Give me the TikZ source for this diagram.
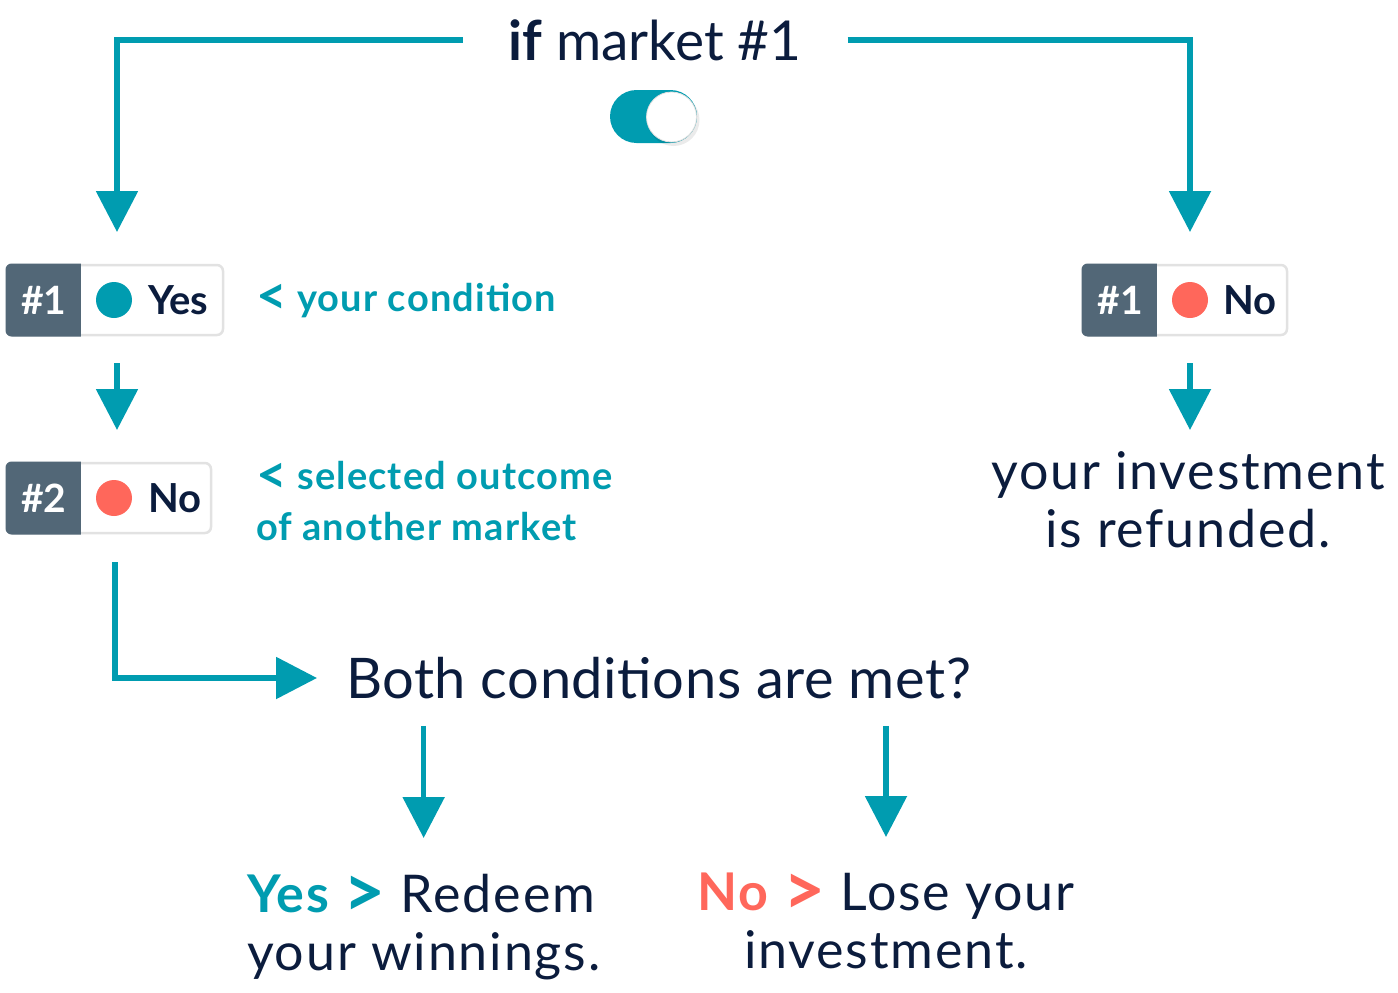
\documentclass[tikz,border=0pt]{standalone}
\usepackage{graphicx}
\usepackage{fontspec}
\setmainfont{Lato}
\usetikzlibrary{arrows.meta}
\definecolor{brandteal}{HTML}{009CB0}
\definecolor{brandred}{HTML}{FF675B}
\definecolor{navy}{HTML}{0B1C3D}
\definecolor{badgedark}{HTML}{526777}
\definecolor{bordergray}{HTML}{E2E2E2}
\newcommand{\bigLT}{\raisebox{-0.1em}{\scalebox{1.4}{<}}}
\newcommand{\bigGT}{\raisebox{-0.1em}{\scalebox{1.4}{>}}}
\begin{document}
\begin{tikzpicture}[x=1pt,y=-1pt,
  arr/.style={draw=brandteal, line width=5.5pt, -{Triangle[length=41pt,width=41pt]}},
  txt/.style={inner sep=0pt, outer sep=0pt, text=navy, font=\fontsize{52}{58}\selectfont\addfontfeatures{LetterSpace=3.5}},
  lbl/.style={inner sep=0pt, outer sep=0pt, text=brandteal, font=\fontsize{38}{51}\selectfont\addfontfeatures{LetterSpace=3}\bfseries},
  badgebox/.style={draw=bordergray, line width=2.5pt, fill=white, rounded corners=6pt, minimum height=70pt, inner sep=0pt, outer sep=0pt},
  badgenum/.style={inner sep=0pt, text=white, font=\fontsize{39}{40}\selectfont\bfseries},
  badgeval/.style={inner sep=0pt, text=navy, font=\fontsize{40}{40}\selectfont\bfseries},
  dot/.style={circle, minimum size=36pt, inner sep=0pt, outer sep=0pt}
]
\useasboundingbox (0,0) rectangle (1398,993);

% title and toggle
\node[txt, font=\fontsize{55}{60}\selectfont, minimum width=385pt] (title) at (655,40) {\textbf{if} market \#1};
\node[fill=brandteal, rounded corners=26.5pt, minimum width=87pt, minimum height=53pt, inner sep=0pt] (toggle) at (653.5,116.5) {};
\fill[black, opacity=0.08] (673.5,120) circle (26pt);
\node[circle, fill=white, draw=black!12, line width=0.8pt, minimum size=50pt, inner sep=0pt] (knob) at (671.5,117) {};

% badges
\newcommand{\badgedarkpart}[1]{%
  \begin{scope}
    \clip[rounded corners=6pt] ([shift={(-1.5,-1.5)}]#1.north west) rectangle ([shift={(1.5,1.5)}]#1.south east);
    \fill[badgedark] ([shift={(-2,-2)}]#1.north west) rectangle ([shift={(74,2)}]#1.south west);
  \end{scope}}
\node[badgebox, minimum width=216pt] (b1) at (115,300) {};
\badgedarkpart{b1}
\node[badgenum, anchor=base] (b1n) at (44,314) {\#1};
\node[dot, fill=brandteal] (c1) at (114,300) {};
\node[badgeval, anchor=base west] (b1v) at (148,314) {Yes};

\node[badgebox, minimum width=204pt] (b2) at (109,498) {};
\badgedarkpart{b2}
\node[badgenum, anchor=base] (b2n) at (44,512) {\#2};
\node[dot, fill=brandred] (c2) at (114,498) {};
\node[badgeval, anchor=base west] (b2v) at (148,512) {No};

\node[badgebox, minimum width=204pt] (b3) at (1185,300) {};
\badgedarkpart{b3}
\node[badgenum, anchor=base] (b3n) at (1120,314) {\#1};
\node[dot, fill=brandred] (c3) at (1190,300) {};
\node[badgeval, anchor=base west] (b3v) at (1223,314) {No};

% labels
\node[lbl, anchor=base west] (l1) at (256,311) {\bigLT{} your condition};
\node[lbl, align=left, anchor=north west] (l2) at (256,461) {\bigLT{} selected outcome\\of another market};

% texts
\node[txt, align=center, anchor=north] (ref) at (1188,452) {your investment\\is refunded.};
\node[txt, font=\fontsize{56}{64}\selectfont\addfontfeatures{LetterSpace=1}, anchor=west] (q) at (346,678) {Both conditions are met?};
\node[txt, align=left, anchor=north west] (ay) at (247,874) {\textcolor{brandteal}{\textbf{Yes \bigGT}} Redeem\\your winnings.};
\node[txt, align=center, anchor=north] (an) at (886,873) {\textcolor{brandred}{\textbf{No \bigGT}} Lose your\\investment.};

% connectors
\draw[arr, shorten >=50pt] (title.west) -| ([xshift=3pt]c1.north);
\draw[arr, shorten >=50pt] (title.east) -| (c3.north);
\draw[arr, shorten <=28pt, shorten >=33pt] ([xshift=3pt]b1.south -| c1) -- ([xshift=3pt]b2.north -| c2);
\draw[arr, shorten <=28pt, shorten >=22pt] (b3.south -| c3) -- (ref.north -| c3);
\draw[arr, shorten <=29pt, shorten >=29pt] ([xshift=1pt]b2.south -| c2) |- (q.west);
\draw[arr, shorten <=27pt, shorten >=36pt] (q.south -| ay.north) -- (ay.north);
\draw[arr, shorten <=27pt, shorten >=36pt] (q.south -| an.north) -- (an.north);
\end{tikzpicture}
\end{document}
